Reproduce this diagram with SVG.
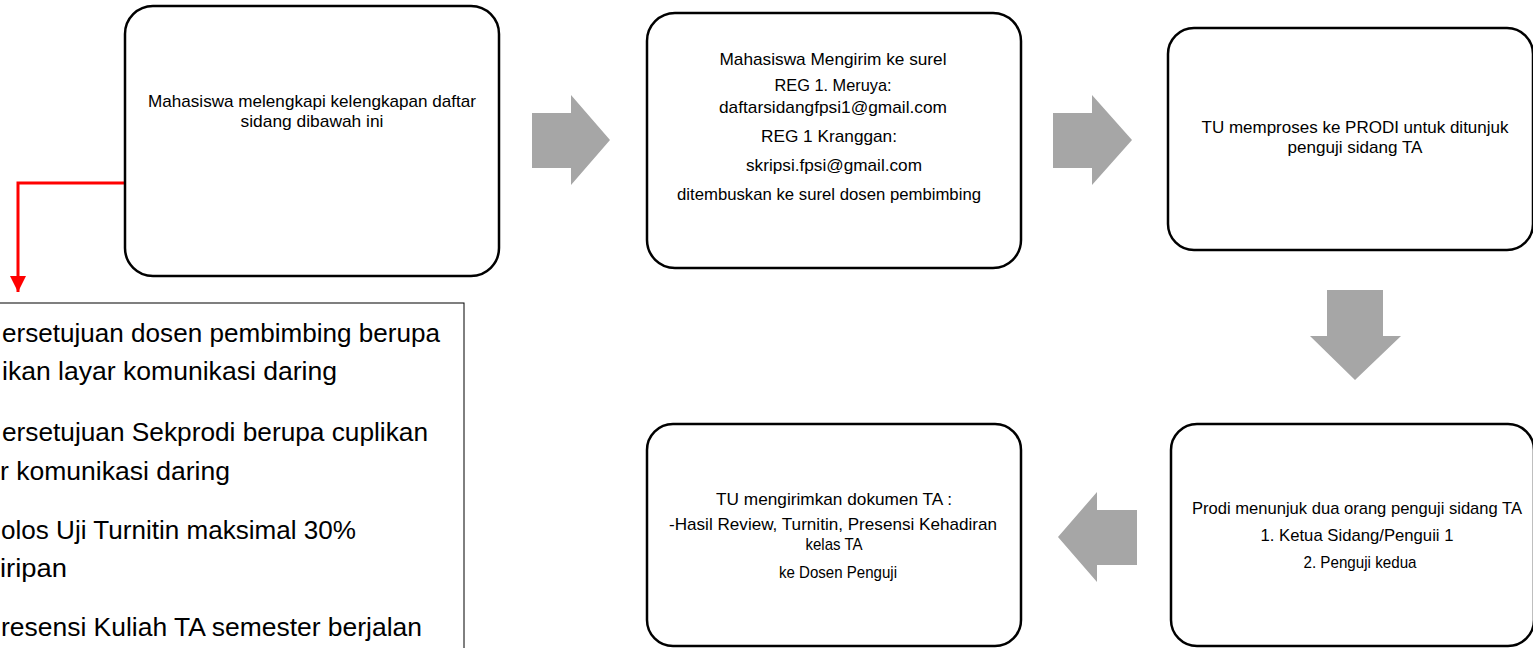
<svg xmlns="http://www.w3.org/2000/svg" width="1533" height="648" viewBox="0 0 1533 648">
<style>
.box{fill:#fff;stroke:#000;stroke-width:2.5}
.t{font-family:"Liberation Sans",Arial,sans-serif;font-size:17px;fill:#000;text-anchor:middle}
.lt{font-family:"Liberation Sans",Arial,sans-serif;font-size:26px;fill:#000}
.blk{fill:#A6A6A6}
</style>
<defs>
<marker id="redhead" viewBox="0 0 16 16" refX="16" refY="8" markerWidth="16" markerHeight="16" markerUnits="userSpaceOnUse" orient="auto">
<path d="M0,0 L16,8 L0,16 Z" fill="#FF0000"/>
</marker>
</defs>
<rect width="1533" height="648" fill="#fff"/>

<g id="list">
<rect x="-2" y="303" width="466" height="350" fill="#fff" stroke="#000" stroke-width="1"/>
<text class="lt" x="2" y="342" textLength="438" lengthAdjust="spacingAndGlyphs">ersetujuan dosen pembimbing berupa</text>
<text class="lt" x="2" y="380" textLength="335" lengthAdjust="spacingAndGlyphs">ikan layar komunikasi daring</text>
<text class="lt" x="2" y="441" textLength="426" lengthAdjust="spacingAndGlyphs">ersetujuan Sekprodi berupa cuplikan</text>
<text class="lt" x="0" y="480" textLength="230" lengthAdjust="spacingAndGlyphs">r komunikasi daring</text>
<text class="lt" x="1" y="539" textLength="355" lengthAdjust="spacingAndGlyphs">olos Uji Turnitin maksimal 30%</text>
<text class="lt" x="0" y="577" textLength="67" lengthAdjust="spacingAndGlyphs">iripan</text>
<text class="lt" x="1" y="636" textLength="421" lengthAdjust="spacingAndGlyphs">resensi Kuliah TA semester berjalan</text>
</g>

<g id="connectors">
<path d="M125,183 H18 V292" fill="none" stroke="#FF0000" stroke-width="3" marker-end="url(#redhead)"/>
<polygon class="blk" points="532,113 571,113 571,95 610,140 571,185 571,168 532,168"/>
<polygon class="blk" points="1053,113 1092,113 1092,95 1132,140 1092,185 1092,168 1053,168"/>
<polygon class="blk" points="1327,290 1383,290 1383,336 1401,336 1355,380 1310,336 1327,336"/>
<polygon class="blk" points="1137,510 1097,510 1097,492 1058,537 1097,582 1097,565 1137,565"/>
</g>

<g id="node1">
<rect class="box" x="125" y="6" width="374" height="270" rx="28" ry="28"/>
<text class="t" x="312" y="107" textLength="328" lengthAdjust="spacingAndGlyphs">Mahasiswa melengkapi kelengkapan daftar</text>
<text class="t" x="312" y="127" textLength="143" lengthAdjust="spacingAndGlyphs">sidang dibawah ini</text>
</g>

<g id="node2">
<rect class="box" x="647" y="13" width="374" height="255" rx="28" ry="28"/>
<text class="t" x="833" y="65" textLength="227" lengthAdjust="spacingAndGlyphs">Mahasiswa Mengirim ke surel</text>
<text class="t" x="833" y="91" textLength="117" lengthAdjust="spacingAndGlyphs">REG 1. Meruya:</text>
<text class="t" x="833" y="113" textLength="228" lengthAdjust="spacingAndGlyphs">daftarsidangfpsi1@gmail.com</text>
<text class="t" x="829" y="142" textLength="136" lengthAdjust="spacingAndGlyphs">REG 1 Kranggan:</text>
<text class="t" x="834" y="171" textLength="176" lengthAdjust="spacingAndGlyphs">skripsi.fpsi@gmail.com</text>
<text class="t" x="829" y="200" textLength="304" lengthAdjust="spacingAndGlyphs">ditembuskan ke surel dosen pembimbing</text>
</g>

<g id="node3">
<rect class="box" x="1168" y="28" width="365" height="222" rx="26" ry="26"/>
<text class="t" x="1355" y="133" textLength="307" lengthAdjust="spacingAndGlyphs">TU memproses ke PRODI untuk ditunjuk</text>
<text class="t" x="1355" y="153" textLength="135" lengthAdjust="spacingAndGlyphs">penguji sidang TA</text>
</g>

<g id="node4">
<rect class="box" x="1171" y="424" width="363" height="222" rx="26" ry="26"/>
<text class="t" x="1357" y="514" textLength="330" lengthAdjust="spacingAndGlyphs">Prodi menunjuk dua orang penguji sidang TA</text>
<text class="t" x="1357" y="541" textLength="193" lengthAdjust="spacingAndGlyphs">1. Ketua Sidang/Penguii 1</text>
<text class="t" x="1360" y="568" textLength="113" lengthAdjust="spacingAndGlyphs">2. Penguji kedua</text>
</g>

<g id="node5">
<rect class="box" x="647" y="424" width="374" height="222" rx="26" ry="26"/>
<text class="t" x="834" y="505" textLength="236" lengthAdjust="spacingAndGlyphs">TU mengirimkan dokumen TA :</text>
<text class="t" x="833" y="530" textLength="328" lengthAdjust="spacingAndGlyphs">-Hasil Review, Turnitin, Presensi Kehadiran</text>
<text class="t" x="834" y="550" textLength="57" lengthAdjust="spacingAndGlyphs">kelas TA</text>
<text class="t" x="838" y="578" textLength="118" lengthAdjust="spacingAndGlyphs">ke Dosen Penguji</text>
</g>
</svg>
